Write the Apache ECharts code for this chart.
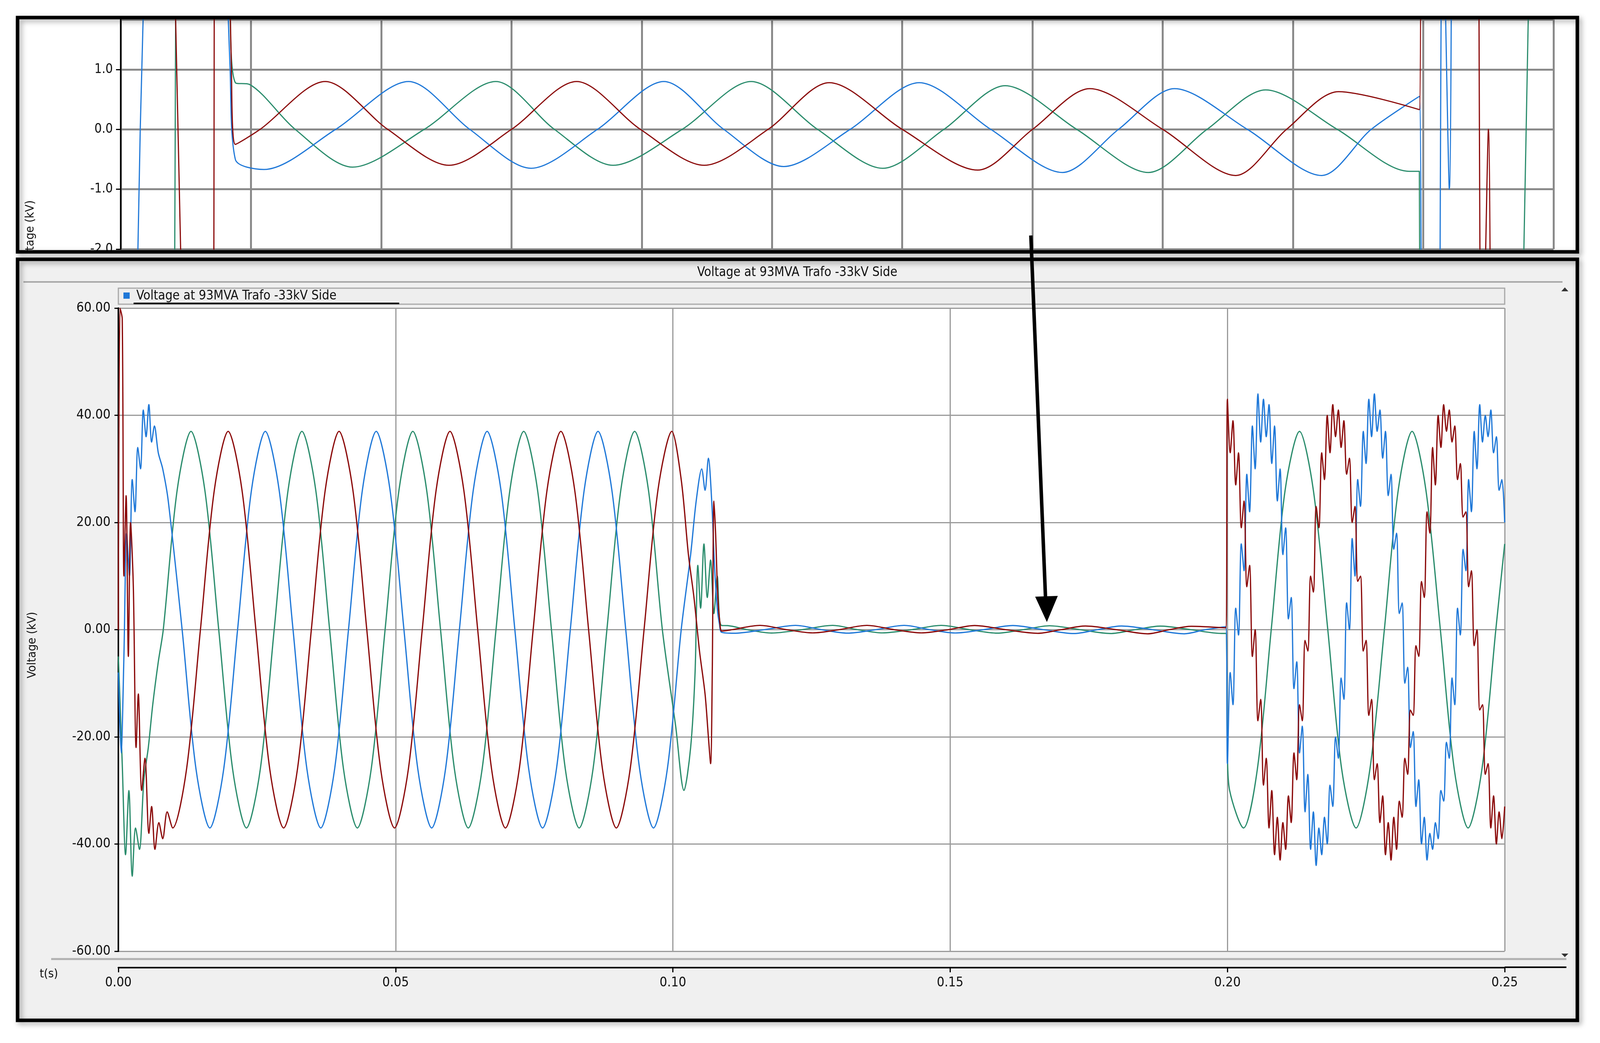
<!DOCTYPE html>
<html><head><meta charset="utf-8">
<script src="https://cdn.jsdelivr.net/npm/echarts@6/dist/echarts.min.js"></script>
<style>html,body{margin:0;padding:0;background:#fff}#c{width:4107px;height:2671px}</style>
</head><body><div id="c"></div>
<script>
// ---------- data (time s, voltage kV) ----------
const redPre = [[0,0],[0.0003,60],[0.0007,58],[0.001,10],[0.0014,25],[0.0018,-5],[0.0022,20],[0.0027,8],[0.0032,-22],[0.0036,-12],[0.0042,-30],[0.0048,-24],[0.0055,-38],[0.006,-33],[0.0066,-41],[0.0073,-36],[0.008,-39],[0.0088,-34],[0.0098,-37],
[0.0123,-26],[0.0148,0],[0.0173,26],[0.0198,37],[0.0223,26],[0.0248,0],[0.0273,-26],[0.0298,-37],[0.0323,-26],[0.0348,0],[0.0373,26],[0.0398,37],[0.0423,26],[0.0448,0],[0.0473,-26],[0.0498,-37],[0.0523,-26],[0.0548,0],[0.0573,26],[0.0598,37],[0.0623,26],[0.0648,0],[0.0673,-26],[0.0698,-37],[0.0723,-26],[0.0748,0],[0.0773,26],[0.0798,37],[0.0823,26],[0.0848,0],[0.0873,-26],[0.0898,-37],[0.0923,-26],[0.0948,0],[0.0973,26],[0.0998,37],
[0.1015,28],[0.1028,14],[0.1038,6],[0.1048,-4],[0.1058,-12],[0.1064,-20],[0.1068,-25],[0.1071,-8],[0.1074,24],[0.1077,18],[0.1081,6],[0.1085,1]];
const greenPre = [[0,-5],[0.0007,-25],[0.0013,-42],[0.0019,-30],[0.0025,-46],[0.0031,-37],[0.0038,-41],[0.0046,-28],[0.0054,-22],[0.0062,-14],[0.0072,-6],
[0.0081,0],[0.0106,26],[0.0131,37],[0.0156,26],[0.0181,0],[0.0206,-26],[0.0231,-37],[0.0256,-26],[0.0281,0],[0.0306,26],[0.0331,37],[0.0356,26],[0.0381,0],[0.0406,-26],[0.0431,-37],[0.0456,-26],[0.0481,0],[0.0506,26],[0.0531,37],[0.0556,26],[0.0581,0],[0.0606,-26],[0.0631,-37],[0.0656,-26],[0.0681,0],[0.0706,26],[0.0731,37],[0.0756,26],[0.0781,0],[0.0806,-26],[0.0831,-37],[0.0856,-26],[0.0881,0],[0.0906,26],[0.0931,37],[0.0956,26],[0.0981,0],
[0.1005,-18],[0.102,-30],[0.1032,-22],[0.104,-8],[0.1045,12],[0.105,4],[0.1056,16],[0.1062,6],[0.1068,13],[0.1074,3],[0.108,10],[0.1084,2]];
const bluePre = [[0,-8],[0.0005,-23],[0.001,-5],[0.0015,18],[0.002,10],[0.0025,28],[0.003,22],[0.0035,34],[0.004,30],[0.0045,41],[0.005,36],[0.0055,42],[0.006,35],[0.0065,38],[0.0072,33],[0.008,30],[0.009,24],
[0.0115,0],[0.014,-26],[0.0165,-37],[0.019,-26],[0.0215,0],[0.024,26],[0.0265,37],[0.029,26],[0.0315,0],[0.034,-26],[0.0365,-37],[0.039,-26],[0.0415,0],[0.044,26],[0.0465,37],[0.049,26],[0.0515,0],[0.054,-26],[0.0565,-37],[0.059,-26],[0.0615,0],[0.064,26],[0.0665,37],[0.069,26],[0.0715,0],[0.074,-26],[0.0765,-37],[0.079,-26],[0.0815,0],[0.084,26],[0.0865,37],[0.089,26],[0.0915,0],[0.094,-26],[0.0965,-37],[0.099,-26],[0.1015,0],
[0.1032,14],[0.1042,24],[0.1052,30],[0.1058,26],[0.1064,32],[0.107,24],[0.1075,12],[0.108,4],[0.1084,1]];

const redFault = [[0.1088,-0.25],[0.1107,0],[0.1157,0.8],[0.1205,0],[0.1252,-0.6],[0.1300,0],[0.1350,0.8],[0.1399,0],[0.1448,-0.6],[0.1497,0],[0.1544,0.78],[0.1600,0],[0.1658,-0.68],[0.1700,0],[0.1744,0.68],[0.1800,0],[0.1856,-0.77],[0.1895,0],[0.1935,0.63],[0.1997,0.33]];
const blueFault = [[0.1088,-0.5],[0.1110,-0.67],[0.1165,0],[0.1221,0.8],[0.1268,0],[0.1315,-0.65],[0.1366,0],[0.1417,0.8],[0.1463,0],[0.1509,-0.62],[0.1560,0],[0.1613,0.78],[0.1668,0],[0.1723,-0.72],[0.1766,0],[0.1809,0.68],[0.1865,0],[0.1922,-0.77],[0.1960,0],[0.1997,0.55]];
const greenFault = [[0.1088,0.78],[0.1099,0.75],[0.1134,0],[0.1178,-0.63],[0.1233,0],[0.1288,0.8],[0.1333,0],[0.1378,-0.6],[0.1431,0],[0.1484,0.8],[0.1535,0],[0.1585,-0.65],[0.1632,0],[0.1679,0.73],[0.1734,0],[0.1789,-0.72],[0.1834,0],[0.1879,0.66],[0.1934,0],[0.1989,-0.7],[0.1997,-0.7]];

// post-fault samples every 0.5 ms starting at 0.200 s
const postStart = 0.2, postStep = 0.0005;
const redPost = [43,33,39,27,33,19,24,8,12,-5,0,-17,-13,-29,-24,-37,-30,-42,-35,-43,-36,-41,-31,-36,-23,-28,-14,-17,-2,-4,10,7,23,19,33,28,40,33,42,36,
41,34,39,29,32,20,23,9,10,-4,-2,-16,-13,-28,-25,-36,-31,-42,-36,-43,-35,-41,-32,-35,-24,-27,-15,-16,-3,-5,9,6,22,18,34,27,40,34,42,37,
41,35,38,28,31,21,22,8,11,-3,0,-15,-14,-27,-25,-37,-31,-40,-34,-39,-33];
const bluePost = [-25,-8,-14,4,-1,16,11,29,22,38,30,44,35,43,36,42,31,38,24,30,14,19,2,6,-11,-6,-23,-18,-34,-27,-41,-34,-44,-37,-42,-35,-40,-29,-33,-20,
-24,-9,-13,5,0,17,10,28,23,37,31,43,36,44,37,41,32,37,25,29,15,18,3,5,-10,-7,-22,-19,-33,-28,-40,-35,-43,-38,-41,-36,-39,-30,-32,-21,
-24,-9,-14,4,-1,15,11,28,22,37,30,42,35,40,36,41,33,36,26,28,20];
const greenPost = [[0.2,-23],[0.2004,-30],[0.2029,-37],[0.2054,-26],[0.2079,0],[0.2104,26],[0.213,37],[0.2155,26],[0.2181,0],[0.2206,-26],[0.2232,-37],[0.2257,-26],[0.2283,0],[0.2308,26],[0.2333,37],[0.2358,26],[0.2384,0],[0.2409,-26],[0.2434,-37],[0.2459,-26],[0.2484,0],[0.25,16]];

const toPairs = vals => vals.map((v,i)=>[+(postStart+i*postStep).toFixed(4), v]);
const RED = redPre.concat(redFault, toPairs(redPost));
const BLUE = bluePre.concat(blueFault, toPairs(bluePost));
const GREEN = greenPre.concat(greenFault, greenPost);

const C_RED='#8b0a0a', C_BLUE='#1f78d8', C_GREEN='#2a8c6c';
const FONT='DejaVu Sans Condensed, DejaVu Sans, sans-serif';
const S=0.9925; const p=v=>Math.round(v*S);

const chart = echarts.init(document.getElementById('c'));
function ser(name,data,color,xi,w){return {name,type:'line',xAxisIndex:xi,yAxisIndex:xi,data,showSymbol:false,smooth:0.3,
  lineStyle:{color,width:w},z:10,animation:false,clip:true};}

chart.setOption({
  animation:false,
  backgroundColor:'#fff',
  grid:[{left:p(311),top:p(50),width:p(3696),height:p(592),show:false},{left:p(305),top:p(795),width:p(3576),height:p(1659),show:false}],
  xAxis:[
    {type:'value',gridIndex:0,min:0.10,max:0.21,interval:0.01,z:5,axisLabel:{show:false},axisTick:{show:false},axisLine:{show:false},
     splitLine:{show:true,lineStyle:{color:'#8a8a8a',width:5}}},
    {type:'value',gridIndex:1,min:0,max:0.25,interval:0.05,z:5,offset:42,
     axisLine:{show:true,onZero:false,lineStyle:{color:'#000',width:4}},axisTick:{show:true,length:12,inside:false,lineStyle:{color:'#000',width:3}},
     axisLabel:{fontSize:34,fontFamily:FONT,color:'#111',margin:22,formatter:v=>v.toFixed(2)},
     splitLine:{show:true,lineStyle:{color:'#9a9a9a',width:3}}}
  ],
  yAxis:[
    {type:'value',gridIndex:0,min:-2,max:1.835,interval:1,z:5,
     axisLine:{show:true,lineStyle:{color:'#000',width:4}},axisTick:{show:true,length:12,lineStyle:{color:'#000',width:3}},
     axisLabel:{fontSize:33,fontFamily:FONT,color:'#111',margin:20,showMaxLabel:false,formatter:v=>v.toFixed(1)},
     splitLine:{show:true,lineStyle:{color:'#8a8a8a',width:5}}},
    {type:'value',gridIndex:1,min:-60,max:60,interval:20,z:5,
     axisLine:{show:true,lineStyle:{color:'#000',width:4}},axisTick:{show:true,length:10,lineStyle:{color:'#000',width:3}},
     axisLabel:{fontSize:34,fontFamily:FONT,color:'#111',margin:20,formatter:v=>v.toFixed(2)},
     splitLine:{show:true,lineStyle:{color:'#9a9a9a',width:3}}}
  ],
  series:[
    ser('green top',GREEN,C_GREEN,0,3), ser('blue top',BLUE,C_BLUE,0,3), ser('red top',RED,C_RED,0,3),
    ser('green',GREEN,C_GREEN,1,3.2), ser('blue',BLUE,C_BLUE,1,3.2), ser('red',RED,C_RED,1,3.2)
  ],
  graphic:[
    {type:'rect',z:-10,shape:{x:p(45),y:p(45),width:p(4023),height:p(605)},style:{fill:'#fff'}},
    {type:'text',z:1,x:p(79),y:p(603),rotation:Math.PI/2,style:{text:'Voltage (kV)',font:'31px '+FONT,fill:'#111',textAlign:'center',textVerticalAlign:'middle'}},
    {type:'rect',z:2,shape:{x:0,y:p(650),width:4107,height:p(19)},style:{fill:'#fff'}},
    {type:'rect',z:2,shape:{x:p(45),y:p(669),width:p(4023),height:p(1964)},style:{fill:'#f0f0f0'}},
    {type:'rect',z:3,shape:{x:p(305),y:p(795),width:p(3576),height:p(1659)},style:{fill:'#fff'}},
    {type:'text',z:4,x:p(2056),y:p(703),style:{text:'Voltage at 93MVA Trafo -33kV Side',font:'33px '+FONT,fill:'#111',textAlign:'center',textVerticalAlign:'middle'}},
    {type:'line',z:4,shape:{x1:p(60),y1:p(727),x2:p(4030),y2:p(727)},style:{stroke:'#a8a8a8',lineWidth:4}},
    {type:'rect',z:4,shape:{x:p(305),y:p(744),width:p(3576),height:p(41)},style:{fill:'#eeeeee',stroke:'#a8a8a8',lineWidth:3}},
    {type:'rect',z:5,shape:{x:p(318),y:p(755),width:16,height:16},style:{fill:C_BLUE}},
    {type:'text',z:5,x:p(352),y:p(764),style:{text:'Voltage at 93MVA Trafo -33kV Side',font:'33px '+FONT,fill:'#111',textVerticalAlign:'middle'}},
    {type:'line',z:5,shape:{x1:p(345),y1:p(783),x2:p(1030),y2:p(783)},style:{stroke:'#000',lineWidth:4}},
    {type:'text',z:4,x:p(84),y:p(1664),rotation:Math.PI/2,style:{text:'Voltage (kV)',font:'31px '+FONT,fill:'#111',textAlign:'center',textVerticalAlign:'middle'}},
    {type:'line',z:4,shape:{x1:p(132),y1:p(2475),x2:p(4040),y2:p(2475)},style:{stroke:'#b0b0b0',lineWidth:5}},
    {type:'line',z:4,shape:{x1:p(3881),y1:p(2496),x2:p(4040),y2:p(2496)},style:{stroke:'#000',lineWidth:4}},
    {type:'text',z:4,x:p(126),y:p(2514),style:{text:'t(s)',font:'31px '+FONT,fill:'#111',textAlign:'center',textVerticalAlign:'middle'}},
    {type:'polygon',z:4,shape:{points:[[p(4027),p(752)],[p(4045),p(752)],[p(4036),p(742)]]},style:{fill:'#333'}},
    {type:'polygon',z:4,shape:{points:[[p(4027),p(2460)],[p(4045),p(2460)],[p(4036),p(2470)]]},style:{fill:'#333'}},
    {type:'rect',z:40,shape:{x:p(45),y:p(45),width:p(4023),height:p(605)},style:{fill:null,stroke:'#000',lineWidth:9,shadowBlur:14,shadowColor:'rgba(0,0,0,0.35)',shadowOffsetX:6,shadowOffsetY:6}},
    {type:'rect',z:40,shape:{x:p(45),y:p(669),width:p(4023),height:p(1964)},style:{fill:null,stroke:'#000',lineWidth:9,shadowBlur:14,shadowColor:'rgba(0,0,0,0.35)',shadowOffsetX:6,shadowOffsetY:6}},
    {type:'line',z:41,shape:{x1:p(2659),y1:p(608),x2:p(2697),y2:p(1555)},style:{stroke:'#000',lineWidth:9}},
    {type:'polygon',z:41,shape:{points:[[p(2700),p(1605)],[p(2670),p(1540)],[p(2728),p(1538)]]},style:{fill:'#000'}}
  ]
});
</script></body></html>
